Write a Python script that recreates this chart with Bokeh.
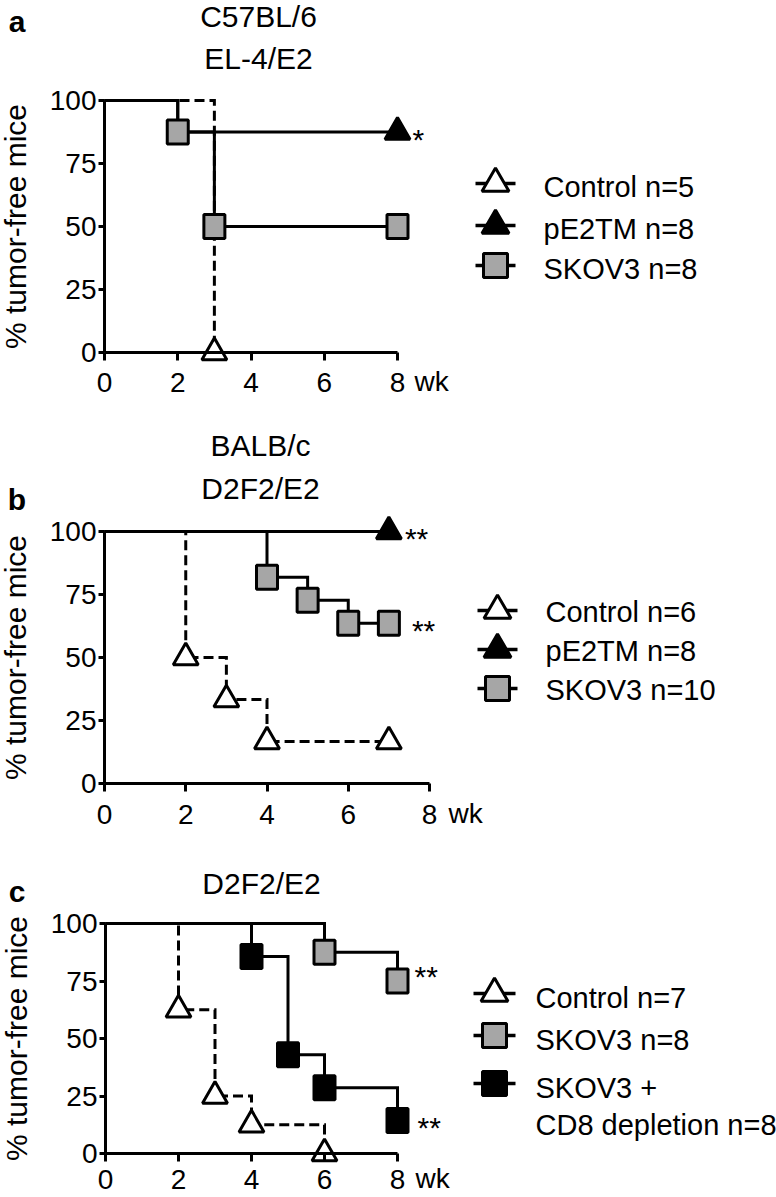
from bokeh.plotting import figure
from bokeh.models import Range1d, LinearAxis, FixedTicker
from bokeh.layouts import column
from bokeh.embed import file_html
from bokeh.resources import INLINE
from bokeh.core.properties import value

FONT = "Liberation Sans"
W = 776

# ---------------- data ----------------
x_ticks = [0, 2, 4, 6, 8]
y_ticks = [0, 25, 50, 75, 100]
x_unit = "wk"
y_title = "% tumor-free mice"

# Panel a : C57BL/6, EL-4/E2
a_tag = "a"
a_titles = ["C57BL/6", "EL-4/E2"]
a_ctrl_t = [0, 3];          a_ctrl_s = [100, 0]
a_ctrl_mt = [3];            a_ctrl_ms = [0]
a_pe2_t = [0, 2, 8];        a_pe2_s = [100, 87.5, 87.5]
a_pe2_mt = [8];             a_pe2_ms = [87.5]
a_skov_t = [0, 2, 3, 8];    a_skov_s = [100, 87.5, 50, 50]
a_skov_mt = [2, 3, 8];      a_skov_ms = [87.5, 50, 50]
a_names = ["Control n=5", "pE2TM n=8", "SKOV3 n=8"]
a_star_t = [8];             a_star_s = [87.5];          a_star_txt = ["*"]

# Panel b : BALB/c, D2F2/E2
b_tag = "b"
b_titles = ["BALB/c", "D2F2/E2"]
b_ctrl_t = [0, 2, 3, 4, 7];         b_ctrl_s = [100, 50, 33.3, 16.7, 16.7]
b_ctrl_mt = [2, 3, 4, 7];           b_ctrl_ms = [50, 33.3, 16.7, 16.7]
b_pe2_t = [0, 7];                   b_pe2_s = [100, 100]
b_pe2_mt = [7];                     b_pe2_ms = [100]
b_skov_t = [0, 4, 5, 6, 7];         b_skov_s = [100, 81.8, 72.7, 63.6, 63.6]
b_skov_mt = [4, 5, 6, 7];           b_skov_ms = [81.8, 72.7, 63.6, 63.6]
b_names = ["Control n=6", "pE2TM n=8", "SKOV3 n=10"]
b_star_t = [7, 7];                  b_star_s = [100, 63.6];    b_star_txt = ["**", "**"]

# Panel c : D2F2/E2
c_tag = "c"
c_titles = ["D2F2/E2"]
c_ctrl_t = [0, 2, 3, 4, 6];         c_ctrl_s = [100, 62.5, 25, 12.5, 0]
c_ctrl_mt = [2, 3, 4, 6];           c_ctrl_ms = [62.5, 25, 12.5, 0]
c_skov_t = [0, 6, 8];               c_skov_s = [100, 87.5, 75]
c_skov_mt = [6, 8];                 c_skov_ms = [87.5, 75]
c_cd8_t = [0, 4, 5, 6, 8];          c_cd8_s = [100, 85.7, 42.9, 28.6, 14.3]
c_cd8_mt = [4, 5, 6, 8];            c_cd8_ms = [85.7, 42.9, 28.6, 14.3]
c_names = ["Control n=7", "SKOV3 n=8", "SKOV3 +\nCD8 depletion n=8"]
c_star_t = [8, 8];                  c_star_s = [80, 14.3];     c_star_txt = ["**", "**"]

# ---------------- styles ----------------
CTRL = dict(kind="tri", fill="white", dash="10 5")
PE2 = dict(kind="tri", fill="black", dash="solid")
SKOV = dict(kind="sq", fill="#a6a6a6", dash="solid")
CD8 = dict(kind="sq", fill="black", dash="solid")


def steps(t, s):
    xs, ys = [t[0]], [s[0]]
    for i in range(1, len(t)):
        xs += [t[i], t[i]]
        ys += [s[i - 1], s[i]]
    return xs, ys


def txt(p, x, y, t, size="28px", style="normal", align="left", baseline="middle", **kw):
    p.text(x=x, y=y, text=t, text_font=value(FONT), text_font_size=value(size),
           text_font_style=style, text_align=align, text_baseline=baseline,
           text_color="black", **kw)


def marker(p, x, y, st, tri_size=25, sq_w=21, sq_h=24, **kw):
    if st["kind"] == "tri":
        p.scatter(x=x, y=y, marker="triangle", size=tri_size, fill_color=st["fill"],
                  line_color="black", line_width=3, **kw)
    else:
        p.rect(x=x, y=y, width=sq_w, height=sq_h, width_units="screen", height_units="screen",
               fill_color=st["fill"], line_color="black", line_width=3, **kw)


def make_panel(H, px0, px8, py100, py0, series, names, tag, tag_xy, titles, title_x, title_ys,
               x_standoff, y_label_standoff, leg_rows, leg_gx, leg_tx, leg_tdy, line_gap,
               stars, star_dx, wk_dx, wk_y):
    sx = (px8 - px0) / float(x_ticks[-1])
    sy = (py0 - py100) / 100.0
    xr = Range1d(-px0 / sx, (W - px0) / sx)
    yr = Range1d(-(H - py0) / sy, 100 + py100 / sy)
    p = figure(width=W, height=H, x_range=xr, y_range=yr, x_axis_location=None,
               y_axis_location=None, toolbar_location=None, output_backend="svg",
               min_border=0, title=None, outline_line_color=None)
    p.xgrid.visible = False
    p.ygrid.visible = False
    p.grid.visible = False
    p.extra_x_ranges = {"px": Range1d(0, W)}
    p.extra_y_ranges = {"py": Range1d(H, 0)}

    xa = LinearAxis(fixed_location=0, bounds=(x_ticks[0], x_ticks[-1]),
                    ticker=FixedTicker(ticks=x_ticks))
    ya = LinearAxis(fixed_location=0, bounds=(y_ticks[0], y_ticks[-1]),
                    ticker=FixedTicker(ticks=y_ticks), axis_label=y_title)
    for ax in (xa, ya):
        ax.axis_line_width = 3
        ax.axis_line_color = "black"
        ax.major_tick_line_width = 3
        ax.major_tick_line_color = "black"
        ax.major_tick_in = 0
        ax.minor_tick_in = 0
        ax.minor_tick_out = 0
        ax.major_label_text_font = FONT
        ax.major_label_text_font_size = "28px"
        ax.major_label_text_color = "black"
    xa.major_tick_out = 8
    xa.major_label_standoff = x_standoff
    ya.major_tick_out = 6
    ya.major_label_standoff = 2
    ya.axis_label_text_font = FONT
    ya.axis_label_text_font_size = "30px"
    ya.axis_label_text_font_style = "normal"
    ya.axis_label_text_color = "black"
    ya.axis_label_standoff = y_label_standoff
    p.add_layout(xa, "below")
    p.add_layout(ya, "left")

    # survival curves: dashed first, then solid, then markers
    order = sorted(series, key=lambda s: 0 if s[4]["dash"] != "solid" else 1)
    for t, s, mt, ms, st in order:
        xs, ys = steps(t, s)
        p.line(xs, ys, line_width=3, color="black", line_dash=st["dash"], line_join="miter")
    for t, s, mt, ms, st in series:
        marker(p, mt, ms, st)

    # significance stars
    st_t, st_s, st_txt = stars
    txt(p, st_t, st_s, st_txt, size="30px", x_offset=star_dx, y_offset=7)

    # unit after last x tick
    txt(p, [x_ticks[-1]], [wk_y], [x_unit], size="28px", x_offset=wk_dx, y_range_name="py")

    # panel tag and titles
    txt(p, [tag_xy[0]], [tag_xy[1]], [tag], size="30px", style="bold", align="center",
        x_range_name="px", y_range_name="py")
    txt(p, [title_x] * len(titles), title_ys, titles, size="30px", align="center",
        x_range_name="px", y_range_name="py")

    # legend
    gx0, gx1 = leg_gx
    for (t, s, mt, ms, st), name, gy in zip(series, names, leg_rows):
        p.segment(x0=[gx0], y0=[gy], x1=[gx1], y1=[gy], line_width=3.5, color="black",
                  x_range_name="px", y_range_name="py")
        marker(p, [(gx0 + gx1) / 2], [gy], st, tri_size=27, sq_w=24, sq_h=24,
               x_range_name="px", y_range_name="py")
        lines = name.split("\n")
        txt(p, [leg_tx] * len(lines), [gy + leg_tdy + k * line_gap for k in range(len(lines))],
            lines, size="29px", x_range_name="px", y_range_name="py")
    return p


pa = make_panel(
    H=400, px0=104, px8=397, py100=100, py0=352,
    series=[(a_ctrl_t, a_ctrl_s, a_ctrl_mt, a_ctrl_ms, CTRL),
            (a_pe2_t, a_pe2_s, a_pe2_mt, a_pe2_ms, PE2),
            (a_skov_t, a_skov_s, a_skov_mt, a_skov_ms, SKOV)],
    names=a_names, tag=a_tag, tag_xy=(16.5, 21), titles=a_titles, title_x=258,
    title_ys=[15.5, 57.5], x_standoff=12, y_label_standoff=15,
    leg_rows=[183, 225, 265], leg_gx=(475, 515), leg_tx=543, leg_tdy=3, line_gap=37,
    stars=(a_star_t, a_star_s, a_star_txt), star_dx=[15], wk_dx=17, wk_y=381)

pb = make_panel(
    H=430, px0=104, px8=429, py100=131, py0=383,
    series=[(b_ctrl_t, b_ctrl_s, b_ctrl_mt, b_ctrl_ms, CTRL),
            (b_pe2_t, b_pe2_s, b_pe2_mt, b_pe2_ms, PE2),
            (b_skov_t, b_skov_s, b_skov_mt, b_skov_ms, SKOV)],
    names=b_names, tag=b_tag, tag_xy=(16.5, 98.5), titles=b_titles, title_x=260,
    title_ys=[45, 88], x_standoff=13, y_label_standoff=15,
    leg_rows=[210, 249, 288], leg_gx=(477, 517), leg_tx=545, leg_tdy=1, line_gap=37,
    stars=(b_star_t, b_star_s, b_star_txt), star_dx=[16, 23], wk_dx=19, wk_y=413)

pc = make_panel(
    H=367, px0=105, px8=397, py100=93, py0=323,
    series=[(c_ctrl_t, c_ctrl_s, c_ctrl_mt, c_ctrl_ms, CTRL),
            (c_skov_t, c_skov_s, c_skov_mt, c_skov_ms, SKOV),
            (c_cd8_t, c_cd8_s, c_cd8_mt, c_cd8_ms, CD8)],
    names=c_names, tag=c_tag, tag_xy=(16.5, 61), titles=c_titles, title_x=261,
    title_ys=[53], x_standoff=8, y_label_standoff=15,
    leg_rows=[163, 205, 253], leg_gx=(473, 515), leg_tx=535, leg_tdy=4, line_gap=37,
    stars=(c_star_t, c_star_s, c_star_txt), star_dx=[17, 20], wk_dx=18, wk_y=348)

layout = column(pa, pb, pc, spacing=0)
open("out.html", "w").write(file_html(layout, INLINE))
